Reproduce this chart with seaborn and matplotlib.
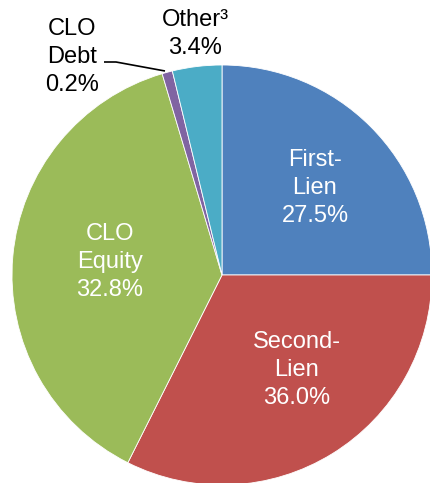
import numpy as np
import seaborn as sns
import matplotlib
matplotlib.use("Agg")
import matplotlib.pyplot as plt

# Slice shares as drawn, and the printed labels
categories = ["First-Lien", "Second-Lien", "CLO Equity", "CLO Debt", "Other"]
shares = [25.0, 32.4, 38.0, 0.8, 3.8]
label_texts = ["First-\nLien\n27.5%", "Second-\nLien\n36.0%", "CLO\nEquity\n32.8%",
               "CLO\nDebt\n0.2%", "Other\u00b3\n3.4%"]
colors = ["#4F81BD", "#C0504D", "#9BBB59", "#8064A2", "#4BACC6"]

sns.set_theme(style="white")
plt.rcParams['font.family'] = ['Liberation Sans', 'DejaVu Sans']

fig = plt.figure(figsize=(4.31, 4.83), dpi=100)
ax = fig.add_axes([0, 0, 1, 1])

wedges, _ = ax.pie(shares, colors=sns.color_palette(colors), startangle=90,
                   counterclock=False, radius=1.0,
                   wedgeprops=dict(edgecolor="white", linewidth=0.6))

# pixel -> data helper (center at 222,275 px, radius 210 px)
def px(x, y):
    return (x - 222) / 210, (275 - y) / 210

ax.set_xlim(-222 / 210, (431 - 222) / 210)
ax.set_ylim(-(483 - 275) / 210, 275 / 210)
ax.set_aspect('auto')
ax.axis('off')

# label positions (pixel centres) and colours
label_pos = [(315, 188), (297, 370), (110, 262), (72, 57), (195, 34)]
label_col = ["white", "white", "white", "black", "black"]
for txt, (x, y), c in zip(label_texts, label_pos, label_col):
    tx, ty = px(x, y)
    ax.text(tx, ty, txt, ha="center", va="center", color=c,
            fontsize=17, linespacing=1.38)

# leader line for CLO Debt
pts = [px(104, 62), px(116, 62), px(165, 71)]
ax.plot([p[0] for p in pts], [p[1] for p in pts], color="black", lw=1.2,
        solid_capstyle="butt")

fig.savefig("out.png", dpi=100)
